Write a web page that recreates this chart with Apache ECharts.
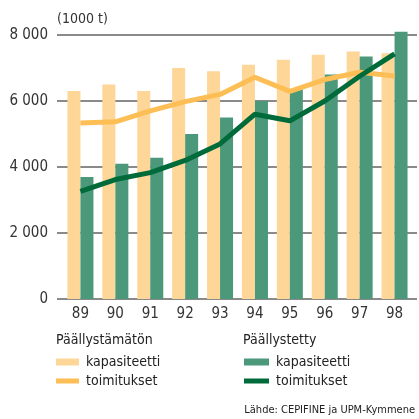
<!DOCTYPE html>
<html>
<head>
<meta charset="utf-8">
<script src="https://cdn.jsdelivr.net/npm/echarts@6/dist/echarts.min.js"></script>
<style>
  html, body { margin: 0; padding: 0; background: #fff; }
  #chart { width: 419px; height: 419px; }
</style>
</head>
<body>
<div id="chart"></div>
<script>
// vuodet
const years = ['89', '90', '91', '92', '93', '94', '95', '96', '97', '98'];
// Päällystämätön (1000 t)
const uncoatedCapacity = [6300, 6500, 6300, 7000, 6900, 7100, 7250, 7400, 7500, 7450];
const uncoatedDeliveries = [5330, 5370, 5700, 5980, 6200, 6720, 6290, 6650, 6870, 6760];
// Päällystetty (1000 t)
const coatedCapacity = [3700, 4100, 4280, 5000, 5500, 6000, 6350, 6800, 7350, 8100];
const coatedDeliveries = [3260, 3620, 3830, 4200, 4700, 5600, 5400, 6000, 6750, 7430];

const FONT = "'Liberation Sans Narrow', 'DejaVu Sans Condensed', sans-serif";
const C_LIGHT = '#FDD698';
const C_ORANGE = '#FDBE55';
const C_DARK = '#4B997A';
const C_GREEN = '#006B3A';

const chart = echarts.init(document.getElementById('chart'), null, { renderer: 'canvas' });

// legend helper, one item per legend so each can have own swatch size
const legendItem = (name, left, top, w, h) => ({
  data: [name],
  left: left,
  top: top,
  padding: 0,
  icon: 'rect',
  itemWidth: w,
  itemHeight: h,
  selectedMode: false,
  formatter: (n) => n.split(' ').pop(),
  textStyle: { fontFamily: FONT, fontSize: 14, color: '#222', padding: [0, 0, 0, 2] },
});

const option = {
  animation: false,
  textStyle: { fontFamily: FONT },
  title: {
    text: '(1000 t)',
    left: 57,
    top: 12,
    padding: 0,
    textStyle: { fontFamily: FONT, fontSize: 14, fontWeight: 'normal', color: '#333' },
  },
  grid: [
    // gridlines + y labels
    { left: 57, right: 2, top: 35, bottom: 120 },
    // bars + lines
    { left: 63, right: 7, top: 35, bottom: 120 },
  ],
  xAxis: [
    { gridIndex: 0, type: 'value', show: false, min: 0, max: 1 },
    {
      gridIndex: 1,
      type: 'category',
      data: years,
      axisLine: { show: false },
      axisTick: { show: false },
      axisLabel: { margin: 8, fontFamily: FONT, fontSize: 15, color: '#333' },
    },
  ],
  yAxis: [
    {
      gridIndex: 0,
      type: 'value',
      min: 0,
      max: 8000,
      interval: 2000,
      axisLine: { show: false },
      axisTick: { show: false },
      axisLabel: {
        margin: 9,
        fontFamily: FONT,
        fontSize: 15,
        color: '#333',
        formatter: (v) => (v === 0 ? '0' : (v / 1000) + ' 000'),
      },
      splitLine: { lineStyle: { color: '#8a8a8a', width: 2 } },
    },
    { gridIndex: 1, type: 'value', min: 0, max: 8000, show: false },
  ],
  legend: [
    legendItem('Päällystämätön kapasiteetti', 56, 355, 23, 7),
    legendItem('Päällystämätön toimitukset', 56, 374, 23, 5),
    legendItem('Päällystetty kapasiteetti', 244, 355, 25, 7),
    legendItem('Päällystetty toimitukset', 244, 374, 25, 5),
  ],
  graphic: [
    {
      type: 'text', left: 56, top: 333,
      style: { text: 'Päällystämätön', font: '14px ' + FONT, fill: '#222' },
    },
    {
      type: 'text', left: 243, top: 333,
      style: { text: 'Päällystetty', font: '14px ' + FONT, fill: '#222' },
    },
    {
      type: 'text', right: 4, top: 405,
      style: { text: 'Lähde: CEPIFINE ja UPM-Kymmene', font: '11px ' + FONT, fill: '#222' },
    },
  ],
  series: [
    {
      name: 'Päällystämätön kapasiteetti',
      type: 'bar',
      xAxisIndex: 1, yAxisIndex: 1,
      data: uncoatedCapacity,
      barWidth: 13,
      barGap: '0%',
      clip: false,
      itemStyle: { color: C_LIGHT },
    },
    {
      name: 'Päällystetty kapasiteetti',
      type: 'bar',
      xAxisIndex: 1, yAxisIndex: 1,
      data: coatedCapacity,
      barWidth: 13,
      barGap: '0%',
      clip: false,
      itemStyle: { color: C_DARK },
    },
    {
      name: 'Päällystämätön toimitukset',
      type: 'line',
      xAxisIndex: 1, yAxisIndex: 1,
      data: uncoatedDeliveries,
      symbol: 'none',
      z: 3,
      itemStyle: { color: C_ORANGE },
      lineStyle: { color: C_ORANGE, width: 5 },
    },
    {
      name: 'Päällystetty toimitukset',
      type: 'line',
      xAxisIndex: 1, yAxisIndex: 1,
      data: coatedDeliveries,
      symbol: 'none',
      z: 4,
      itemStyle: { color: C_GREEN },
      lineStyle: { color: C_GREEN, width: 5 },
    },
  ],
};

chart.setOption(option);
</script>
</body>
</html>
